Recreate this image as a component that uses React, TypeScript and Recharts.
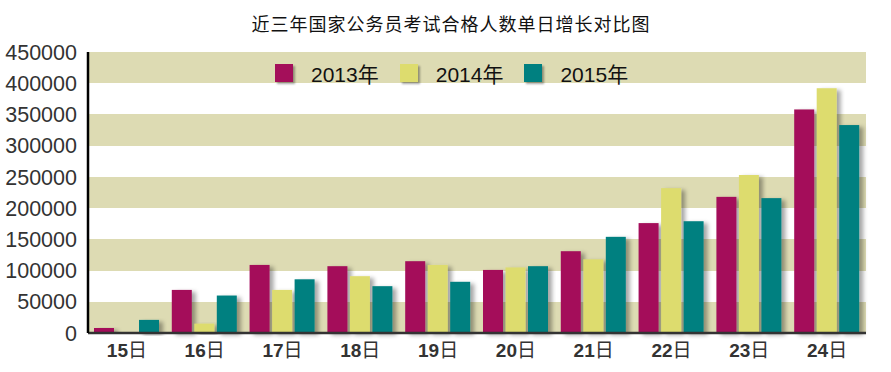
import React from 'react';
import { BarChart, Bar, XAxis, YAxis, CartesianGrid } from 'recharts';

const days = ['15日', '16日', '17日', '18日', '19日', '20日', '21日', '22日', '23日', '24日'];
const y2013 = [8000, 69000, 109000, 107000, 115000, 101000, 131000, 176000, 218000, 358000];
const y2014 = [0, 15000, 69000, 91000, 109000, 105000, 118000, 232000, 253000, 392000];
const y2015 = [21000, 60000, 86000, 75000, 82000, 107000, 154000, 179000, 216000, 333000];
const yTicks = [0, 50000, 100000, 150000, 200000, 250000, 300000, 350000, 400000, 450000];

const series = [
  { key: 'y2013', name: '2013年', color: '#a40f5a' },
  { key: 'y2014', name: '2014年', color: '#dddc6e' },
  { key: 'y2015', name: '2015年', color: '#008080' },
];

const data = days.map((d, i) => ({ day: d, y2013: y2013[i], y2014: y2014[i], y2015: y2015[i] }));

const FONT = "'Liberation Sans', Arial, 'Noto Sans CJK SC', sans-serif";

const ShadowBar = (props: any) => {
  const { x, y, width, height, fill } = props;
  if (!height || height <= 0) return null;
  return <rect x={x} y={y} width={width} height={height} fill={fill} filter="url(#barShadow)" />;
};

const DayTick = (props: any) => {
  const { x, y, payload } = props;
  const v: string = payload.value;
  const num = v.replace('日', '');
  return (
    <text x={x} y={y + 16} textAnchor="middle" fill="#333" fontFamily={FONT} fontSize={19}>
      <tspan fontWeight="bold">{num}</tspan>
      <tspan>日</tspan>
    </text>
  );
};

export default function App() {
  return (
    <div style={{ position: 'absolute', left: 0, top: 0, width: 891, height: 372, background: '#fff', fontFamily: FONT }}>
      <svg width={0} height={0} style={{ position: 'absolute' }}>
        <defs>
          <filter id="barShadow" x="-20%" y="-10%" width="160%" height="130%">
            <feDropShadow dx={4} dy={2} stdDeviation={2.2} floodColor="#000" floodOpacity={0.35} />
          </filter>
        </defs>
      </svg>
      <div style={{ position: 'absolute', top: 10, left: 0, width: 902, textAlign: 'center', fontSize: 18, letterSpacing: 1, color: '#111' }}>
        近三年国家公务员考试合格人数单日增长对比图
      </div>
      <BarChart
        width={891}
        height={372}
        data={data}
        margin={{ top: 52, right: 25, left: 0, bottom: 0 }}
        barSize={20}
        barGap={2.5}
      >
        <CartesianGrid
          vertical={false}
          horizontal={true}
          stroke="none"
          strokeOpacity={0}
          fill="none"
          horizontalFill={['#dddbb3', '#ffffff']}
          syncWithTicks
        />
        <XAxis
          dataKey="day"
          height={39}
          tickLine={false}
          axisLine={{ stroke: '#333', strokeWidth: 2.5 }}
          tick={<DayTick />}
          interval={0}
        />
        <YAxis
          width={88}
          domain={[0, 450000]}
          ticks={yTicks}
          tickLine={false}
          axisLine={{ stroke: '#000', strokeWidth: 2.5 }}
          tickMargin={5}
          tick={{ fill: '#333', fontSize: 21.5, fontFamily: FONT }}
          interval={0}
        />
        {series.map((s) => (
          <Bar key={s.key} dataKey={s.key} name={s.name} fill={s.color} shape={<ShadowBar />} isAnimationActive={false} />
        ))}
      </BarChart>
      <div style={{ position: 'absolute', top: 58, left: 275, display: 'flex', alignItems: 'center', fontSize: 21, color: '#111' }}>
        {series.map((s) => (
          <div key={s.key} style={{ display: 'flex', alignItems: 'center', marginRight: 21 }}>
            <div style={{ width: 18, height: 18, background: s.color, boxShadow: '2px 2px 2px rgba(0,0,0,0.35)', marginRight: 18 }} />
            <span>{s.name}</span>
          </div>
        ))}
      </div>
    </div>
  );
}
